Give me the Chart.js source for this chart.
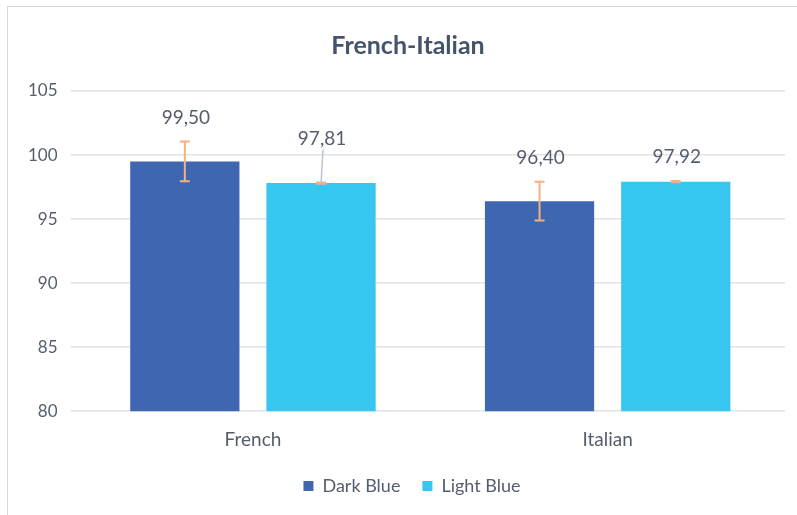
<!DOCTYPE html>
<html>
<head>
<meta charset="utf-8">
<script src="https://cdn.jsdelivr.net/npm/chart.js@4/dist/chart.umd.min.js"></script>
<style>
  html, body { margin: 0; padding: 0; background: #ffffff; }
  #frame { position: absolute; left: 7px; top: 6px; width: 800px; height: 520px; border: 1px solid #d9d9d9; }
  canvas { position: absolute; left: 0; top: 0; }
</style>
</head>
<body>
<div id="frame"></div>
<canvas id="myChart" width="797" height="515"></canvas>
<script>
// chart data
var categories = ['French', 'Italian'];
var darkBlue = [99.50, 96.40];
var lightBlue = [97.81, 97.92];
var darkBlueErr = [1.55, 1.52];
var lightBlueErr = [0.05, 0.05];
var yTicks = [80, 85, 90, 95, 100, 105];

var textColor = '#555e6e';
var fontFamily = 'Lato, "Open Sans", sans-serif';

// extra lift for the moved label (the one with a leader line)
var labelLift = [[0, 0], [20, 0]];

// draws error bars and value labels on top of the bars
var errorBarsPlugin = {
    id: 'errorBars',
    afterLayout: function(chart) {
        // title and legend sit a bit right of centre in the original
        chart.legend.left += 12;
        chart.legend.right += 12;
        chart.titleBlock.left += 8;
        chart.titleBlock.right += 8;
    },
    afterDatasetsDraw: function(chart) {
        var ctx = chart.ctx;
        var yScale = chart.scales.y;
        chart.data.datasets.forEach(function(ds, di) {
            var meta = chart.getDatasetMeta(di);
            meta.data.forEach(function(bar, i) {
                var v = ds.data[i];
                var e = ds.errors[i];
                var x = bar.x;
                var yTop = yScale.getPixelForValue(v + e);
                var yBot = yScale.getPixelForValue(v - e);
                ctx.save();
                ctx.strokeStyle = '#f4b183';
                ctx.lineWidth = 2;
                ctx.beginPath();
                ctx.moveTo(x, yTop); ctx.lineTo(x, yBot);
                ctx.moveTo(x - 5, yTop); ctx.lineTo(x + 5, yTop);
                ctx.moveTo(x - 5, yBot); ctx.lineTo(x + 5, yBot);
                ctx.stroke();

                var lift = labelLift[di][i];
                var labelY = yTop - 24 - lift;
                if (lift > 0) {
                    // leader line to the bar
                    ctx.strokeStyle = '#bfc5cf';
                    ctx.lineWidth = 1.5;
                    ctx.beginPath();
                    ctx.moveTo(x + 2, labelY + 11);
                    ctx.lineTo(x, bar.y);
                    ctx.stroke();
                }
                ctx.fillStyle = textColor;
                ctx.font = '19px ' + fontFamily;
                ctx.textAlign = 'center';
                ctx.textBaseline = 'middle';
                ctx.fillText(v.toFixed(2).replace('.', ','), x + 1, labelY);
                ctx.restore();
            });
        });
    }
};

var ctx = document.getElementById('myChart').getContext('2d');
var myChart = new Chart(ctx, {
    type: 'bar',
    data: {
        labels: categories,
        datasets: [{
            label: 'Dark Blue',
            data: darkBlue,
            errors: darkBlueErr,
            backgroundColor: '#3f67b1',
            categoryPercentage: 0.768,
            barPercentage: 0.802
        }, {
            label: 'Light Blue',
            data: lightBlue,
            errors: lightBlueErr,
            backgroundColor: '#36c6f0',
            categoryPercentage: 0.768,
            barPercentage: 0.802
        }]
    },
    options: {
        responsive: false,
        animation: false,
        layout: { padding: { left: 15, right: 12, top: 10, bottom: 10 } },
        plugins: {
            title: {
                display: true,
                text: 'French-Italian',
                color: '#44546a',
                font: { family: fontFamily, size: 25, weight: 'bold' },
                padding: { top: 21, bottom: 30 }
            },
            legend: {
                position: 'bottom',
                labels: {
                    color: textColor,
                    font: { family: fontFamily, size: 18 },
                    boxWidth: 10,
                    boxHeight: 10,
                    padding: 22
                }
            },
            tooltip: { enabled: false }
        },
        scales: {
            x: {
                grid: { display: false },
                border: { display: false },
                ticks: { color: textColor, font: { family: fontFamily, size: 19 }, padding: 9 },
                afterFit: function(scale) { scale.height -= 5; }
            },
            y: {
                min: 80,
                max: 105,
                afterBuildTicks: function(axis) {
                    axis.ticks = yTicks.map(function(v) { return { value: v }; });
                },
                grid: { color: '#dfe3ea', lineWidth: 1.5, tickLength: 5 },
                border: { display: false },
                ticks: { color: textColor, font: { family: fontFamily, size: 17 }, padding: 13 }
            }
        }
    },
    plugins: [errorBarsPlugin]
});
</script>
</body>
</html>
